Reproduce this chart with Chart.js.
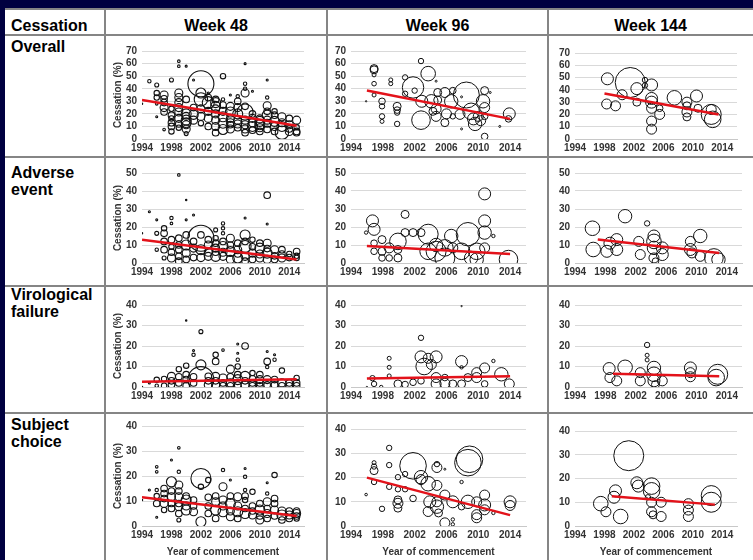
<!DOCTYPE html>
<html><head><meta charset="utf-8">
<script src="https://cdn.jsdelivr.net/npm/chart.js@4.4.1/dist/chart.umd.min.js"></script>
<style>
html,body{margin:0;padding:0;background:#000040;}
#wrap{position:relative;width:753px;height:560px;background:#000040;overflow:hidden;font-family:"Liberation Sans",Arial,sans-serif;}
.tbl{position:absolute;left:5px;top:9px;width:748px;height:551px;background:#fff;}
.hl{position:absolute;height:2px;background:#858585;left:5px;width:748px;}
.vl{position:absolute;width:2px;background:#858585;top:9px;height:551px;}
.lbl{position:absolute;font-weight:bold;font-size:16px;line-height:17px;color:#000;white-space:nowrap;}
.hdr{text-align:center;}
canvas{position:absolute;}
</style></head>
<body>
<div id="wrap">
  <div class="tbl"></div>
</div>
<script>
// ---------- texts ----------
const cornerLabel = "Cessation";
const colTitles = ["Week 48", "Week 96", "Week 144"];
const rowTitles = [["Overall"], ["Adverse", "event"], ["Virological", "failure"], ["Subject", "choice"]];
const yAxisTitle = "Cessation (%)";
const xAxisTitle = "Year of commencement";

// ---------- axes ----------
const xTicks = [1994, 1998, 2002, 2006, 2010, 2014];
const xMin = 1994, xMax = 2016;
const yMaxByRow = [70, 50, 40, 40];
const yStep = 10;

// ---------- bubbles: [year, cessation %, bubble radius] ----------
const w48Overall = [[1994,28,0.7],[1995,46,1.7],[1996,43,2],[1996,36.6,2.7],[1996,17.7,1],[1996,28,1.3],
[1997,35,4],[1997,29,3.3],[1997,21.5,3.3],[1997,7.5,1.3],[1998,47,2],[1998,24,2.7],[1998,16.4,2.7],[1998,10,3.3],[1998,6,2.7],
[1999,62,1.3],[1999,58,1.3],[1999,36.6,4],[1999,29,4],[1999,21.5,4],[1999,16.4,4],[1999,9,2.7],
[2000,58,1],[2000,31.5,3.3],[2000,20,5],[2000,15,5],[2000,11.4,4],[2000,4.3,2],[2001,19.4,4.7],[2001,47,1],
[2002,44,13],[2002,36.6,5],[2002,31.5,6.7],[2002,24,4],[2002,12.6,2.7],[2003,16.4,4],[2003,29,6],[2003,36.6,1],
[2004,29,5],[2004,24,4],[2004,31.5,3.3],[2004,10,4],[2004,5,3.3],[2005,50,2.7],[2005,17.7,5],[2005,12.6,5],[2005,7.6,5],[2005,31.5,1.7],
[2006,35,1],[2006,21.5,5],[2006,16.4,4],[2006,11.4,3.3],[2007,25,4],[2007,20,5],[2007,34,1.7],[2007,9,3.3],
[2008,60,1],[2008,44,1.7],[2008,40,1.7],[2008,36.6,4],[2008,21.5,8],[2008,11.4,4],[2008,5,3.3],
[2009,38,1],[2009,16.4,4],[2009,10,5],[2010,14,5],[2010,9,4],[2010,11.4,5],
[2011,47,1],[2011,33,1.7],[2011,26.5,4],[2011,19,5],[2011,12.6,4],[2011,7.6,3.3],[2012,19,3.3],[2012,14,5],
[2013,5,6.7],[2013,17.7,4],[2013,10,5],[2014,16.4,3.3],[2014,11.4,4],[2015,5,3.3],[2015,15,4],[2015,9.3,2.7],
[1996,33,2.7],[1997,32,3.3],[1997,25,4],[1998,19,3.3],[1998,13,3.3],[1999,33,4],[1999,25,4],[1999,12,3.3],[2000,18,4],[2000,13,5],
[2000,8,4],[2001,25,3.3],[2001,15,4],[2002,18,4],[2003,22,4],[2003,33,3.3],[2003,10,3.3],[2004,26,5],[2004,15,4],[2004,20,4],
[2005,22,4],[2005,27,3.3],[2006,26,4],[2006,8,4],[2006,13,4],[2007,15,4],[2007,30,3.3],[2007,12,4],[2008,26,3.3],[2008,15,4],
[2008,8,4],[2009,13,4],[2009,20,3.3],[2009,7,3.3],[2010,16,4],[2010,6,3.3],[2011,15,4],[2011,22,3.3],[2012,10,4],[2012,6,3.3],
[2012,22,2.7],[2013,13,4],[2014,6,4],[2014,8,3.3],[2015,6,3.3]];
const w96Overall = [[1995.9,30,0.7],[1996.9,56,4],[1996.9,55,4],[1996.9,51,2],[1996.9,44,2.3],[1996.9,35,2],
[1997.9,30,3.3],[1997.9,26,2.7],[1997.9,18,2.7],[1997.9,14,2],[1999,47,2],[1999,44,2],
[1999.8,26,4],[1999.8,23,3.3],[1999.8,21,2.7],[1999.8,12,2.7],[2000.8,49,2.7],[2000.8,36,2.7],
[2001.8,41,10.7],[2002,38.5,2.7],[2002.8,62,2.7],[2002.8,15,9.3],[2002.9,30,6],
[2003.7,52,7.3],[2004.1,30,6.7],[2004.3,22,4],[2004.7,46,1],[2004.7,18,5],[2004.9,37,4],[2004.7,24,5],[2004.9,31,4],
[2005.8,37,5],[2006,20,5],[2005.8,13,4],[2006.6,30,6.7],[2006.8,38.5,3.3],[2006.8,18,2.7],
[2007.7,19.6,5],[2007.9,33.5,1],[2007.9,8,1],[2008.5,35,13],[2009.1,22,8.3],[2009.4,16,6],[2010,18,5],[2009.6,12,6.7],[2010.3,14.6,5],
[2010.6,30,6.7],[2010.8,38.5,4],[2010.8,2,3.3],[2010.8,25,5],[2010.8,18,3.3],[2011.5,37,1],[2012.7,10,1],[2013.9,20,6],[2013.8,16,3.3]];
const w144Overall = [[1998.4,49,6],[1998.3,28.5,5],[1999.5,27,5],[2000.4,36,5],[2001.5,46,15],[2002.4,30,4],[2002.4,41,6],
[2003.5,43.6,2.7],[2003.5,48,2.7],[2004.4,44,6],[2004.4,33,6],[2004.4,30,6],[2004.4,25,5],[2004.4,14.6,5],[2004.4,8,5],
[2005.5,20,5],[2005.5,25,3.3],[2007.5,33.5,7.3],[2009.2,30,5],[2009.2,22,5],[2009.2,18,4],[2009.2,27,4],
[2010.5,35,6],[2010.7,25,4],[2012.5,20,10],[2012.7,16,8.3],[2012.5,24,5]];

const w48Adverse = [[1994,16.5,0.7],[1995,28.5,1],[1996,24,1],[1996,16.5,2],[1996,7.4,1.7],
[1997,19.3,2.7],[1997,16.5,3.3],[1997,7.4,3.3],[1997,2.8,2],[1998,25,1.7],[1998,22,1.3],[1998,9,2.7],[1998,2.8,4],
[1999,49,1.3],[1999,13.8,3.3],[1999,7.4,3.3],[1999,3.7,3.3],[2000,35,0.7],[2000,24,1],[2000,15.6,3.3],[2000,10,5],[2000,5.5,4],
[2001,26.7,1],[2001,8.3,4],[2002,13.8,13],[2002,15.6,3.3],[2002,7.4,5],[2003,10,4],[2003,3.7,4],
[2004,13.8,2.7],[2004,18.4,2],[2004,8.3,4],[2004,3.7,5],[2005,22,1.7],[2005,19.3,1.7],[2005,16.5,1.7],[2005,9.2,5],[2005,3.7,4],
[2006,13.8,4],[2006,6.4,5],[2007,7.4,4],[2007,2.8,5],[2008,25,1],[2008,15.6,5],[2008,9.2,6],[2008,3.7,4],
[2009,13,2.7],[2009,5.5,4],[2010,8.3,5],[2010,2.8,4],[2011,37.7,3.3],[2011,21.7,1],[2011,11,4],[2011,5.5,5],
[2012,7.4,4],[2013,7.4,3.3],[2013,2.8,4],[2015,6.4,3.3],[2015,2.8,2.7],
[1997,12,3.3],[1998,6,3.3],[1998,13,3.3],[1999,10,3.3],[1999,1,3.3],[2000,2,3.3],[2001,12,3.3],[2001,3,3.3],[2002,3,4],[2003,6,4],
[2003,13,3.3],[2004,11,3.3],[2004,6,3.3],[2005,12,3.3],[2005,6,4],[2006,10,3.3],[2006,2,4],[2007,11,3.3],[2007,5,3.3],[2008,12,3.3],
[2008,1,3.3],[2009,9,3.3],[2009,2,3.3],[2010,5,4],[2010,11,3.3],[2011,8,3.3],[2011,2,4],[2012,4,3.3],[2012,2,3.3],[2013,5,3.3],
[2014,3,3.3],[2014,5,2.7],[2015,4,2.7]];
const w96Adverse = [[1995.9,16.9,1.7],[1996.7,23.4,6],[1996.9,18.7,6],[1996.9,11,3.3],[1996.9,6.5,3.3],
[1997.9,13,4],[1997.9,6.5,4],[1997.9,2.8,3.3],[1998.8,8.4,5],[1998.8,2.8,3.3],[1999.9,2.8,4],[1999.9,7.5,4],[2000.8,27,4],[2000.8,16.9,4],[1999.9,12,8.3],
[2001.8,16.9,4],[2002.8,16.9,4],[2003.7,16,10],[2003.7,6.5,8.3],[2004.7,6.5,10],[2004.7,10,6.7],
[2005.8,2.8,10],[2005.8,8.4,8.3],[2006.6,15,6.7],[2006.8,8.4,5],[2007.9,6.5,8.3],[2008.7,16,11.7],[2009.1,2.8,6.7],
[2009.8,6.5,8.3],[2009.8,1.9,6.7],[2010.8,38.4,6],[2010.8,23.4,6],[2010.8,16.9,6.7],[2010.8,8.4,5],[2011.9,15,1.7],[2013.8,1.9,9.3]];
const w144Adverse = [[1996.3,19.3,7.3],[1996.4,7.5,7.3],[1998.2,6.5,6],[1998.6,11,6],[1999.5,13,6],[1999.5,7.5,6],[2000.6,26,6.7],
[2002.4,12,5],[2002.6,4.7,5],[2003.5,22,2.7],[2004.4,15,6],[2004.4,12,7.3],[2004.4,8.4,6.7],[2004.4,2.8,5],[2004.6,1,3.3],
[2005.5,8.4,6],[2005.5,4.7,6],[2009.2,12,5],[2009.2,7.5,6],[2009.4,5.6,5],[2010.5,15,6.7],[2010.5,3.7,5],[2012.3,2.8,9.3],[2012.9,1.9,6.7]];

const w48Viro = [[1994,0,0.7],[1995,2,1],[1996,3.5,2.7],[1996,0.6,1.7],[1997,3.9,2.7],[1997,0.6,2.7],[1998,5.2,4],[1998,1.1,3.3],
[1999,8.7,2.7],[1999,2,3.3],[2000,32.4,0.7],[2000,10.4,2.7],[2000,3.6,3.3],[2000,0.6,3.3],[2001,17.8,1],[2001,15.7,1.7],[2001,2,3.3],
[2002,27,2],[2002,10.8,5],[2002,3.6,13],[2003,1.1,4],[2003,5.2,3.3],[2004,15.7,2.7],[2004,12.5,3.3],[2004,5.2,4],[2004,1.1,4],
[2005,18,1.3],[2005,4.4,4],[2005,0.6,3.3],[2006,8.7,4],[2006,2,4],[2007,21,1],[2007,16.5,1],[2007,13.3,1.7],[2007,10,2.7],[2007,3.6,5],
[2008,20,3.3],[2008,5.2,5],[2008,1.1,4],[2009,6.8,2.7],[2009,2,3.3],[2010,3.6,4],[2010,0.6,3.3],[2011,17.3,1],[2011,12.5,3.3],[2011,9.7,1.7],[2011,3.6,4],
[2012,15.7,1],[2012,13.3,1.7],[2012,3.6,3.3],[2013,8,2.7],[2013,2,4],[2015,4.4,2.7],[2015,0.6,3.3],
[1998,3,3.3],[1999,5,3.3],[2000,6,3.3],[2001,5,3.3],[2003,3,3.3],[2004,3,3.3],[2005,2,3.3],[2006,5,3.3],[2006,0.6,3.3],[2007,1,3.3],
[2007,6,3.3],[2008,3,3.3],[2009,4,3.3],[2009,0.6,3.3],[2010,2,3.3],[2010,6,3.3],[2011,1,3.3],[2012,1,3.3],[2013,0.6,3.3],[2014,2,3.3],
[2014,0.6,3.3],[2015,2,3.3]];
const w96Viro = [[1996,0,0.7],[1996.7,4.3,2.7],[1996.9,1.5,2.7],[1997.8,0,1.7],[1998.8,14,2],[1998.8,9.6,2],[1998.8,5.4,2],
[1999.9,1.5,4],[2000.8,1.2,3.3],[2001.8,2.3,3.3],[2002.8,24,2.7],[2002.8,14.7,6],[2003.2,10,8.3],[2002.8,3,3.3],
[2003.7,14,5],[2004.1,11,5],[2004.7,14.7,6],[2004.7,4.6,5],[2004.7,1.5,5],[2005.8,1.8,5],[2005.8,4.6,3.3],[2006.8,1.5,4],
[2007.9,39.5,0.7],[2007.9,12.4,6],[2007.9,9.6,1.7],[2007.9,1.5,4],[2008.7,4.6,4],[2009.8,7,5],[2009.8,4.6,5],[2010.8,9.3,5],[2010.8,1.5,3.3],
[2011.9,12.7,1.7],[2012.9,6.2,6.7],[2013.9,1.5,5]];
const w144Viro = [[1998.5,9,6],[1998.6,4.6,5],[1999.5,3,5],[2000.6,9.6,7.3],[2002.6,7,5],[2002.6,3,5],[2003.5,20.5,2.7],[2003.5,15.5,2],[2003.5,13.2,2],
[2004.4,9.3,6.7],[2004.4,6.2,7.3],[2004.4,3,6],[2004.6,1.2,4],[2005.5,3,5],[2009.2,9.3,6],[2009.2,7,5],[2009.2,5,5],[2012.8,6.2,10],[2012.6,4.6,8.3]];

const w48Subject = [[1994,10.4,0.7],[1995,14.4,1],[1996,23.7,1.3],[1996,21.7,1.3],[1996,14.4,1.7],[1996,3.5,1],[1996,9,3.3],
[1997,13,3.3],[1997,9,4],[1997,6.4,2.7],[1998,26.4,1],[1998,17.7,5],[1998,11.7,4],[1998,7,3.3],
[1999,31.3,1.3],[1999,21.7,1.7],[1999,16.4,4],[1999,11.7,4],[1999,7.7,4],[1999,2.4,2],
[2000,10.4,5],[2000,6.4,5],[2001,10.4,3.3],[2001,5.7,4],[2002,19,10],[2002,15.7,2.7],[2002,1.7,5],
[2003,18.4,2.7],[2003,11.5,3.3],[2004,9.7,4],[2004,6.4,5],[2005,22.4,1.7],[2005,15.7,4],[2005,10.4,4],[2005,5.7,5],
[2006,18.4,1],[2006,9,5],[2006,3.7,4],[2007,11.7,4],[2007,5.7,5],[2008,23,1],[2008,19.7,1.7],[2008,14.4,1.7],[2008,10.4,2.7],[2008,5,5],
[2009,13.7,2.7],[2009,4.4,4],[2010,6.4,5],[2010,2.4,4],[2011,17.3,1],[2011,13,1.7],[2011,9.7,4],[2011,5,4],
[2012,20.4,2.7],[2012,11,3.3],[2012,6.4,4],[2013,4.4,5],[2013,2.4,3.3],[2014,4.4,4],[2015,5,4],[2015,3,2.7],
[1996,12,2.7],[1997,11,3.3],[1997,15,3.3],[1998,9,3.3],[1998,14,3.3],[1999,9,3.3],[1999,14,3.3],[1999,5,3.3],[2000,8,4],[2000,12,3.3],
[2001,8,3.3],[2003,8,3.3],[2003,5,3.3],[2004,12,3.3],[2004,3,3.3],[2005,8,4],[2006,6,4],[2006,12,3.3],[2007,8,4],[2007,3,3.3],
[2008,7,3.3],[2008,12,3.3],[2009,8,3.3],[2009,6,3.3],[2010,4,3.3],[2010,9,3.3],[2011,7,3.3],[2011,3,3.3],[2012,9,3.3],[2012,4,3.3],
[2013,6,4],[2014,6,3.3],[2014,3,3.3],[2015,4,3.3],[2015,6,3.3]];
const w96Subject = [[1995.9,13,1.3],[1996.9,26.2,2],[1996.9,24.6,2.7],[1996.9,22.9,4],[1996.9,18.2,2.7],[1997.9,7.1,2.7],
[1998.8,32.3,2.7],[1998.8,25.2,2.7],[1998.8,16.2,2.7],[1999.9,20.2,2.7],[1999.9,15.2,2.7],[1999.9,9.4,5],[1999.9,10.8,4],[1999.9,7.4,4],
[2000.8,21.5,2.7],[2000.8,15.2,2.7],[2001.8,24.9,13.3],[2001.8,11.4,3.3],[2002.8,20.2,6.7],[2002.8,19.2,5],[2003.7,17.5,7.3],[2003.7,6,5],[2003.9,10,6],
[2004.8,25.6,2.7],[2004.8,24.2,5],[2004.8,16.8,5],[2004.8,10,5],[2004.8,8,6.7],[2005,5.4,4],[2005.8,23.5,1],[2005.8,12.8,5],[2005.8,1.3,5],
[2006.8,10,6],[2006.8,2.7,1.7],[2006.8,0.7,1.7],[2007.9,18.2,1.7],[2007.9,8,3.3],[2008.7,26.2,13.3],[2008.9,27.6,13.3],[2008.7,10,6.7],
[2009.8,10,5],[2009.8,4.7,5],[2009.8,3.4,5],[2010.8,12.8,5],[2010.8,8.7,6],[2010.8,6.7,5],[2011.9,5.4,1.7],[2014,10,6],[2014,8.5,5]];
const w144Subject = [[1997.5,9.4,7.3],[1998.2,6,5],[1999.5,14.8,6],[1999.3,12.1,6],[2000.2,4,7.3],[2001.3,29.6,15],[2002.4,18.2,6],[2002.6,16.8,6],
[2003.9,12.1,2.7],[2004.4,16.8,8.3],[2004.4,14.8,8.3],[2004.4,10,5],[2004.4,6,5],[2004.6,4.7,4],[2005.7,10,5],[2005.7,4,5],
[2009.4,9.4,5],[2009.4,6.7,5],[2009.4,4,5],[2012.5,12.8,10],[2012.5,10,10]];

// ---------- fitted trend lines: [[x0, y0], [x1, y1]] ----------
const trendW48Overall = [[1994,31],[2015,10.5]];
const trendW96Overall = [[1996,38.5],[2014,16]];
const trendW144Overall = [[1998,37],[2013.5,20]];
const trendW48Adverse = [[1994,13],[2015,2]];
const trendW96Adverse = [[1996,9.5],[2014,5]];
const trendW144Adverse = [[1997,13],[2013,5.5]];
const trendW48Viro = [[1994,2.5],[2015,3.8]];
const trendW96Viro = [[1996,4.2],[2014,5.3]];
const trendW144Viro = [[1999,6.5],[2013,5.2]];
const trendW48Subject = [[1994,11.5],[2015,4]];
const trendW96Subject = [[1996,20],[2014,4.5]];
const trendW144Subject = [[1999,12.5],[2013,9]];

const bubbleGrid = [
  [w48Overall, w96Overall, w144Overall],
  [w48Adverse, w96Adverse, w144Adverse],
  [w48Viro, w96Viro, w144Viro],
  [w48Subject, w96Subject, w144Subject]
];
const trendGrid = [
  [trendW48Overall, trendW96Overall, trendW144Overall],
  [trendW48Adverse, trendW96Adverse, trendW144Adverse],
  [trendW48Viro, trendW96Viro, trendW144Viro],
  [trendW48Subject, trendW96Subject, trendW144Subject]
];

// ---------- layout ----------
const wrap = document.getElementById('wrap');
const hLines = [9, 35, 157, 286, 413];
const vLines = [105, 327, 548];
const colCells = [[105,327],[327,548],[548,753]];
const colGeom = [{left:107,width:218,yW:35,padR:21},{left:329,width:217,yW:22,padR:20},{left:550,width:203,yW:25,padR:11}];
const rowGeom = [{top:37,h:118,padT:10,xH:16},{top:159,h:120,padT:14,xH:16},{top:288,h:115,padT:17,xH:16},{top:415,h:144,padT:11,xH:33}];
const rowLabelTop = [38, 164, 286, 416];

hLines.forEach(y => { const d = document.createElement('div'); d.className='hl'; d.style.top=(y-1)+'px'; wrap.appendChild(d); });
vLines.forEach(x => { const d = document.createElement('div'); d.className='vl'; d.style.left=(x-1)+'px'; wrap.appendChild(d); });

function addLabel(html, left, top, width, center) {
  const d = document.createElement('div');
  d.className = 'lbl' + (center ? ' hdr' : '');
  d.style.left = left + 'px'; d.style.top = top + 'px';
  if (width) d.style.width = width + 'px';
  d.innerHTML = html;
  wrap.appendChild(d);
}
addLabel(cornerLabel, 11, 17);
colTitles.forEach((t, i) => addLabel(t, colCells[i][0], 17, colCells[i][1]-colCells[i][0], true));
rowTitles.forEach((lines, i) => addLabel(lines.join('<br>'), 11, rowLabelTop[i]));

const fam = '"Liberation Sans", Arial, Helvetica, sans-serif';
const tickFont = {family: fam, size: 10, weight: 'bold'};
const tickColor = '#333333';

for (let r = 0; r < 4; r++) {
  for (let c = 0; c < 3; c++) {
    const cg = colGeom[c], rg = rowGeom[r];
    const cv = document.createElement('canvas');
    cv.width = cg.width; cv.height = rg.h;
    cv.style.left = cg.left + 'px'; cv.style.top = rg.top + 'px';
    cv.style.width = cg.width + 'px'; cv.style.height = rg.h + 'px';
    wrap.appendChild(cv);
    const bubbles = bubbleGrid[r][c];
    const trend = trendGrid[r][c];
    new Chart(cv.getContext('2d'), {
      type: 'bubble',
      data: {
        datasets: [
          {type: 'line', data: trend.map(p => ({x: p[0], y: p[1]})), borderColor: '#e3121a', borderWidth: 2.5,
           pointRadius: 0, fill: false, order: 0, tension: 0},
          {type: 'bubble', data: bubbles.map(b => ({x: b[0], y: b[1], r: b[2]})), backgroundColor: 'rgba(0,0,0,0)',
           borderColor: '#111111', borderWidth: c === 0 ? 1.1 : 1, order: 1}
        ]
      },
      options: {
        responsive: false, animation: false, devicePixelRatio: 1,
        layout: {padding: {top: rg.padT, right: cg.padR, left: 0, bottom: 0}},
        plugins: {legend: {display: false}, tooltip: {enabled: false}},
        events: [],
        scales: {
          x: {
            type: 'linear', min: xMin, max: xMax,
            afterBuildTicks: s => { s.ticks = xTicks.map(v => ({value: v})); },
            afterFit: s => { s.height = rg.xH; },
            grid: {display: false, drawTicks: false},
            border: {display: true, color: '#c8c8c8', width: 1},
            ticks: {padding: 3, font: tickFont, color: tickColor, maxRotation: 0, autoSkip: false, callback: v => String(v)},
            title: {display: r === 3, text: xAxisTitle, font: tickFont, color: tickColor, padding: {top: 0, bottom: 1}}
          },
          y: {
            type: 'linear', min: 0, max: yMaxByRow[r],
            afterFit: s => { s.width = cg.yW; },
            ticks: {stepSize: yStep, padding: 5, font: tickFont, color: tickColor, autoSkip: false},
            grid: {color: '#d9d9d9', drawTicks: false, lineWidth: 1},
            border: {display: false},
            title: {display: c === 0, text: yAxisTitle, font: tickFont, color: tickColor, padding: {top: 5, bottom: 0}}
          }
        }
      }
    });
  }
}
</script>
</body></html>
